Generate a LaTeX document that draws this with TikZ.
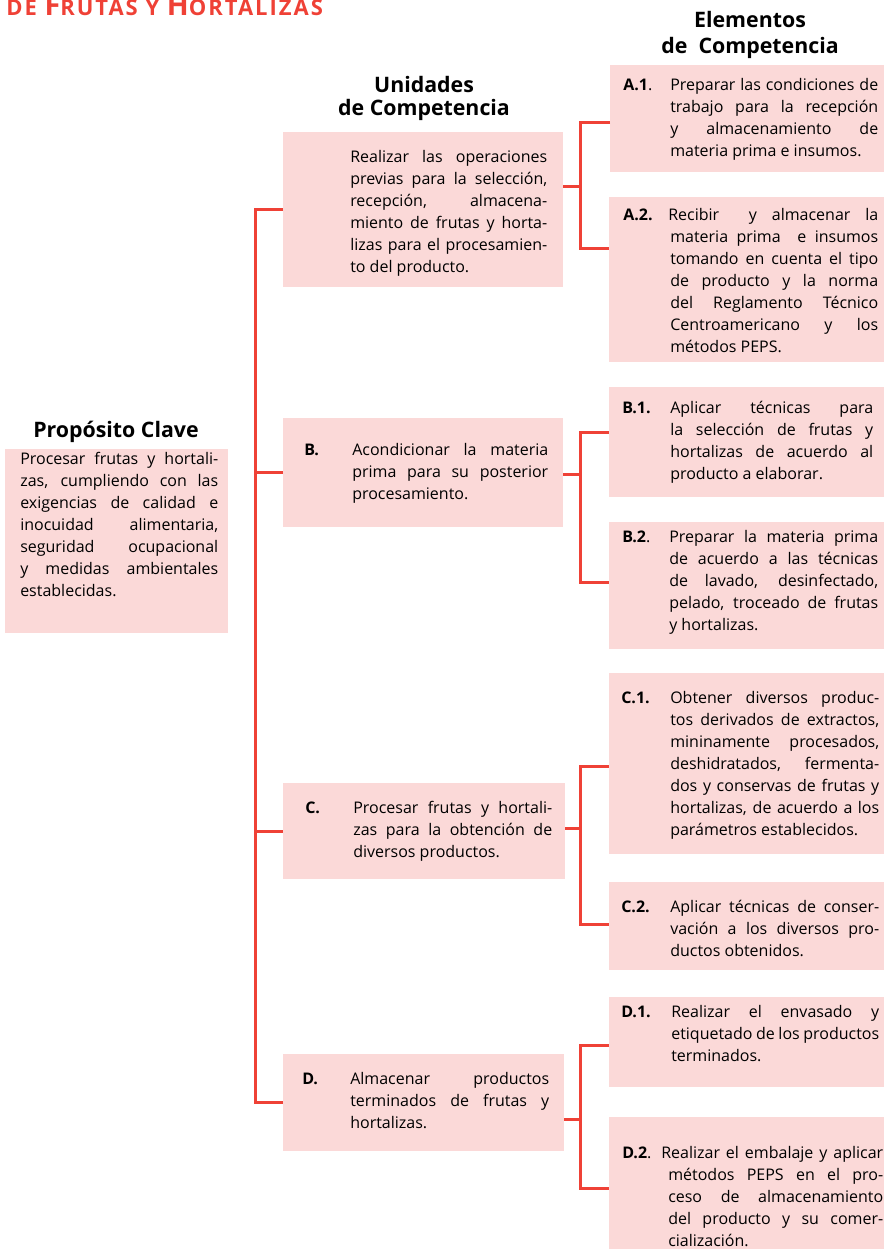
\documentclass[tikz,border=0pt]{standalone}
\usepackage{fontspec}
\setmainfont{Open Sans}
\usetikzlibrary{fit}
\definecolor{boxpink}{HTML}{FBD9D8}
\definecolor{linered}{HTML}{EF4136}
\newdimen\px \px=0.75pt
\newcommand\jline[1]{\hbox to\hsize{#1}}
\newcommand\eline[1]{\hbox to\hsize{#1\hfil}}
\tikzset{
  box/.style={fill=boxpink, inner sep=0pt, outer sep=0pt},
  link/.style={draw=linered, line width=2.25pt},
  head/.style={font=\fontsize{16}{19}\selectfont\bfseries, inner sep=0pt, anchor=base},
  txt/.style={font=\fontsize{12}{16.5}\selectfont, inner sep=0pt, anchor=base west},
  lab/.style={txt}
}
\begin{document}
\begin{tikzpicture}[x=0.75pt, y=-0.75pt]
  \useasboundingbox (0,0) rectangle (884,1249);
  \clip (0,0) rectangle (884,1249);

  % title (cut at the top)
  \node[anchor=base west, inner sep=0pt, text=linered,
        font=\bfseries\fontsize{16.5}{16.5}\selectfont\addfontfeature{LetterSpace=9}] (title) at (6,15)
    {DE {\fontsize{21.5}{21.5}\selectfont F}RUTAS Y {\fontsize{21.5}{21.5}\selectfont H}ORTALIZAS};

  % headings
  \node[head] (hE1) at (750,27) {Elementos};
  \node[head] (hE2) at (750,53) {de\ \ Competencia};
  \node[head] (hU1) at (424,92) {Unidades};
  \node[head] (hU2) at (424,115) {de Competencia};
  \node[head] (hP) at (116,437) {Propósito Clave};

  % boxes
  \node[box, fit={(5,449) (228,633)}] (P) {};
  \node[box, fit={(283,132) (563,287)}] (uA) {};
  \node[box, fit={(283,418) (563,527)}] (uB) {};
  \node[box, fit={(283,783) (565,879)}] (uC) {};
  \node[box, fit={(283,1054) (564,1151)}] (uD) {};
  \node[box, fit={(610,65) (884,172)}] (eA1) {};
  \node[box, fit={(609,197) (884,362)}] (eA2) {};
  \node[box, fit={(609,387) (884,497)}] (eB1) {};
  \node[box, fit={(609,522) (884,649)}] (eB2) {};
  \node[box, fit={(609,673) (884,854)}] (eC1) {};
  \node[box, fit={(609,882) (884,970)}] (eC2) {};
  \node[box, fit={(609,997) (884,1087)}] (eD1) {};
  \node[box, fit={(609,1117) (884,1260)}] (eD2) {};

  % key purpose
  \node[txt] (tP) at (20,464) {\parbox[t]{198\px}{%
    \jline{Procesar frutas y hortali-}
    \jline{zas, cumpliendo con las}
    \jline{exigencias de calidad e}
    \jline{inocuidad alimentaria,}
    \jline{seguridad ocupacional}
    \jline{y medidas ambientales}
    \eline{establecidas.}}};

  % units
  \node[txt] (tA) at (350,162) {\parbox[t]{197\px}{%
    \jline{Realizar las operaciones}
    \jline{previas para la selección,}
    \jline{recepción, almacena-}
    \jline{miento de frutas y horta-}
    \jline{lizas para el procesamien-}
    \eline{to del producto.}}};
  \node[lab] (lB) at (304,455) {\textbf{B.}};
  \node[txt] (tB) at (352,455) {\parbox[t]{196\px}{%
    \jline{Acondicionar la materia}
    \jline{prima para su posterior}
    \eline{procesamiento.}}};
  \node[lab] (lC) at (305,813) {\textbf{C.}};
  \node[txt] (tC) at (353,813) {\parbox[t]{199\px}{%
    \jline{Procesar frutas y hortali-}
    \jline{zas para la obtención de}
    \eline{diversos productos.}}};
  \node[lab] (lD) at (302,1084) {\textbf{D.}};
  \node[txt] (tD) at (350,1084) {\parbox[t]{199\px}{%
    \jline{Almacenar productos}
    \jline{terminados de frutas y}
    \eline{hortalizas.}}};

  % elements
  \node[lab] (lA1) at (623,90) {\textbf{A.1}.};
  \node[txt] (tA1) at (670,90) {\parbox[t]{208\px}{%
    \jline{Preparar las condiciones de}
    \jline{trabajo para la recepción}
    \jline{y almacenamiento de}
    \eline{materia prima e insumos.}}};
  \node[lab] (lA2) at (623,220) {\textbf{A.2.}};
  \node[txt] (tA2) at (670,220) {\parbox[t]{208\px}{%
    \jline{\hskip-1.5pt Recibir\ \ y almacenar la}
    \jline{materia prima\ \ e insumos}
    \jline{tomando en cuenta el tipo}
    \jline{de producto y la norma}
    \jline{del Reglamento Técnico}
    \jline{Centroamericano y los}
    \eline{métodos PEPS.}}};
  \node[lab] (lB1) at (622,413) {\textbf{B.1.}};
  \node[txt] (tB1) at (670,413) {\parbox[t]{203\px}{%
    \jline{Aplicar técnicas para}
    \jline{la selección de frutas y}
    \jline{hortalizas de acuerdo al}
    \eline{producto a elaborar.}}};
  \node[lab] (lB2) at (622,542) {\textbf{B.2}.};
  \node[txt] (tB2) at (669,542) {\parbox[t]{209\px}{%
    \jline{Preparar la materia prima}
    \jline{de acuerdo a las técnicas}
    \jline{de lavado, desinfectado,}
    \jline{pelado, troceado de frutas}
    \eline{y hortalizas.}}};
  \node[lab] (lC1) at (621,703) {\textbf{C.1.}};
  \node[txt] (tC1) at (670,703) {\parbox[t]{209\px}{%
    \jline{Obtener diversos produc-}
    \jline{tos derivados de extractos,}
    \jline{mininamente procesados,}
    \jline{deshidratados, fermenta-}
    \jline{dos y conservas de frutas y}
    \jline{hortalizas, de acuerdo a los}
    \eline{parámetros establecidos.}}};
  \node[lab] (lC2) at (621,912) {\textbf{C.2.}};
  \node[txt] (tC2) at (670,912) {\parbox[t]{209\px}{%
    \jline{Aplicar técnicas de conser-}
    \jline{vación a los diversos pro-}
    \eline{ductos obtenidos.}}};
  \node[lab] (lD1) at (621,1017) {\textbf{D.1.}};
  \node[txt] (tD1) at (671,1017) {\parbox[t]{208\px}{%
    \jline{Realizar el envasado y}
    \jline{etiquetado de los productos}
    \eline{terminados.}}};
  \node[lab] (lD2) at (622,1158) {\textbf{D.2}.};
  \node[txt] (tD2) at (668,1158) {\parbox[t]{215\px}{%
    \jline{\hskip-5.25pt Realizar el embalaje y aplicar}
    \jline{métodos PEPS en el pro-}
    \jline{ceso de almacenamiento}
    \jline{del producto y su comer-}
    \eline{cialización.}}};

  % trunk from the units
  \coordinate (tr) at (255,0);
  \draw[link] (uA.west) -| (tr |- uD.west) -- (uD.west);
  \draw[link] (tr |- uB.west) -- (uB.west);
  \draw[link] (tr |- uC.west) -- (uC.west);

  % forks to the elements
  \foreach \u/\y/\a/\b in {A/186/122/248, B/474/432/582, C/828/766/924, D/1119/1045/1188}{
    \coordinate (f\u) at (580,\y);
    \draw[link] (u\u.east |- f\u) -- (f\u);
    \draw[link] (e\u1.west |- 0,\a) -| (f\u) |- (e\u2.west |- 0,\b);
  }
\end{tikzpicture}
\end{document}
